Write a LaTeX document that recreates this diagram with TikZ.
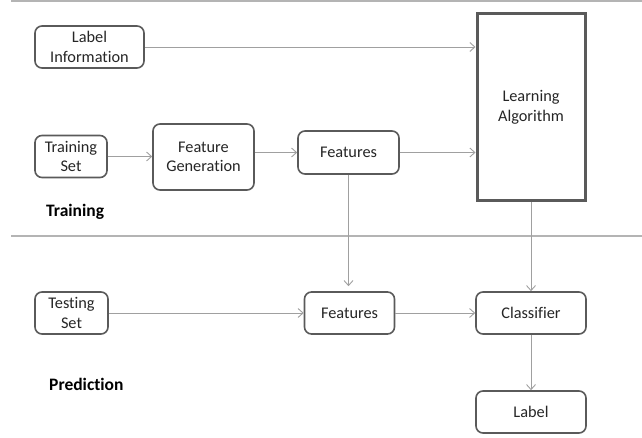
\documentclass[tikz,border=0pt]{standalone}
\usepackage{fontspec}
\setmainfont{Carlito}[Ligatures={NoCommon}]
\usetikzlibrary{arrows.meta}
\definecolor{boxgray}{HTML}{5A5A5A}
\definecolor{arrgray}{HTML}{A0A0A0}
\definecolor{linegray}{HTML}{B4B4B4}
\definecolor{txt}{HTML}{262626}
\begin{document}
\begin{tikzpicture}[x=1pt,y=-1pt,
  box/.style={draw=boxgray, line width=1.6pt, rounded corners=7pt, align=center, inner sep=0pt,
    font=\fontsize{16.3}{19.5}\selectfont, text=txt, fill=white},
  bigbox/.style={draw=boxgray, line width=3pt, align=center, inner sep=0pt,
    font=\fontsize{16.3}{19.5}\selectfont, text=txt},
  arr/.style={draw=arrgray, line width=0.9pt, -{Straight Barb[length=5pt,width=9pt,line width=0.9pt]}},
  sep/.style={draw=linegray, line width=1.6pt},
  phase/.style={font=\fontsize{17.5}{20}\bfseries\selectfont, text=black, inner sep=0pt}
]
\useasboundingbox (0,0) rectangle (642,438);
\draw[sep] (11,1) -- (642,1);
\draw[sep] (11,236) -- (642,236);

\node[box, minimum width=109pt, minimum height=42pt] (li) at (89.5,47) {Label\\Information};
\node[bigbox, minimum width=108pt, minimum height=187pt] (la) at (531,107.5) {Learning\\Algorithm};
\node[box, minimum width=72pt, minimum height=42pt] (ts) at (71,156.5) {Training\\Set};
\node[box, minimum width=101pt, minimum height=66pt] (fg) at (203.5,157) {Feature\\Generation};
\node[box, minimum width=101pt, minimum height=43pt] (ft) at (348.5,152.5) {Features};
\node[phase, anchor=west] (tr) at (46,212) {Training};

\node[box, minimum width=73pt, minimum height=42pt] (te) at (71.5,313) {Testing\\Set};
\node[box, minimum width=90pt, minimum height=42pt] (fb) at (349.5,313) {Features};
\node[box, minimum width=110pt, minimum height=42pt] (cl) at (531,313) {Classifier};
\node[box, minimum width=110pt, minimum height=42pt] (lb) at (531,412) {Label};
\node[phase, anchor=west] (pr) at (49,384) {Prediction};

\draw[arr] (li.east) -- (li.east -| la.west);
\draw[arr] (ts.east) -- (ts.east -| fg.west);
\draw[arr] (fg.east |- ft.west) -- (ft.west);
\draw[arr] (ft.east) -- (ft.east -| la.west);
\draw[arr, shorten >=5pt] (ft.south) -- (ft.south |- fb.north);
\draw[arr] (la.south) -- (la.south |- cl.north);
\draw[arr] (te.east) -- (fb.west);
\draw[arr] (fb.east) -- (cl.west);
\draw[arr] (cl.south) -- (lb.north);
\end{tikzpicture}
\end{document}
